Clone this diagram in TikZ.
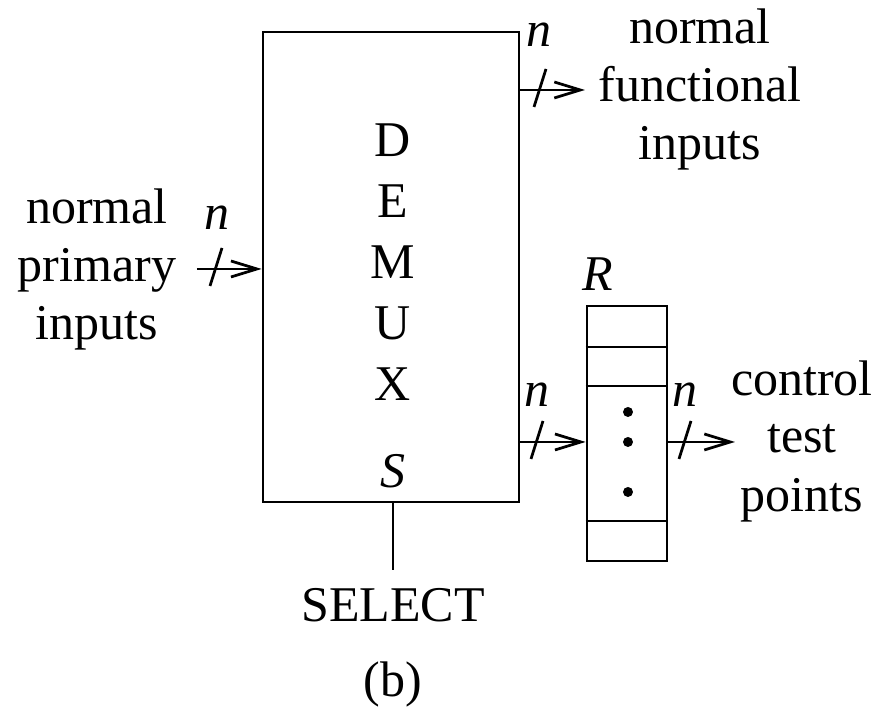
\documentclass[tikz,border=0pt]{standalone}
\usepackage{fontspec}
\setmainfont{Liberation Serif}
\usepackage{tikz}
\usetikzlibrary{arrows.meta}

\begin{document}
\begin{tikzpicture}[
  x=0.2pt, y=-0.2pt, line width=0.55pt,
  every node/.style={font=\fontsize{10}{11.6}\selectfont, align=center, inner sep=0pt},
  sig/.style={-{Straight Barb[length=5.2pt, width=3.2pt]}},
  bus/.pic={\draw (-6,19) -- (6,-19);},
  dot/.style={circle, fill, minimum size=2pt}
]
\useasboundingbox (0,0) rectangle (885,715);

% demultiplexer
\node[draw, minimum width=51.2pt, minimum height=94pt] (demux) at (391,267) {};
\node[font=\fontsize{10}{12.2}\selectfont] (dname) at (393,262) {D\\E\\M\\U\\X};
\node[font=\fontsize{10}{12}\selectfont\itshape] (sel) at (393,471) {S};

% register
\node[draw, minimum width=16pt, minimum height=51pt] (reg) at (627,433.5) {};
\node[font=\fontsize{10}{12}\selectfont\itshape] (rname) at (598,274) {R};
\draw (reg.west |- 0,347) -- (reg.east |- 0,347);
\draw (reg.west |- 0,386) -- (reg.east |- 0,386);
\draw (reg.west |- 0,521) -- (reg.east |- 0,521);
\node[dot] (d1) at (628,412) {};
\node[dot] (d2) at (628,442) {};
\node[dot] (d3) at (628,492) {};

% labels
\node (pin) at (97,269) {normal\\primary\\inputs};
\node (fout) at (700,89) {normal\\functional\\inputs};
\node (tout) at (802,441) {control\\test\\points};
\node (selname) at (393,605) {SELECT};
\node (cap) at (393,685) {(b)};

\node[font=\fontsize{10}{12}\selectfont\itshape] (n1) at (217,218) {n};
\node[font=\fontsize{10}{12}\selectfont\itshape] (n2) at (539,35) {n};
\node[font=\fontsize{10}{12}\selectfont\itshape] (n3) at (537,395) {n};
\node[font=\fontsize{10}{12}\selectfont\itshape] (n4) at (685,395) {n};

% connections
\coordinate (a1) at (197,269);
\coordinate (a2) at (585,90);
\coordinate (a3) at (587,442);
\coordinate (a4) at (735,442);
\coordinate (s1) at (393,570);

\draw[sig] (a1) -- (demux.west |- a1);
\draw[sig] (demux.east |- a2) -- (a2);
\draw[sig] (demux.east |- a3) -- (reg.west |- a3);
\draw[sig] (reg.east |- a4) -- (a4);
\draw (demux.south -| s1) -- (s1);

\path (216,267) pic{bus};
\path (540,88) pic{bus};
\path (537,440) pic{bus};
\path (685,440) pic{bus};

\end{tikzpicture}
\end{document}
